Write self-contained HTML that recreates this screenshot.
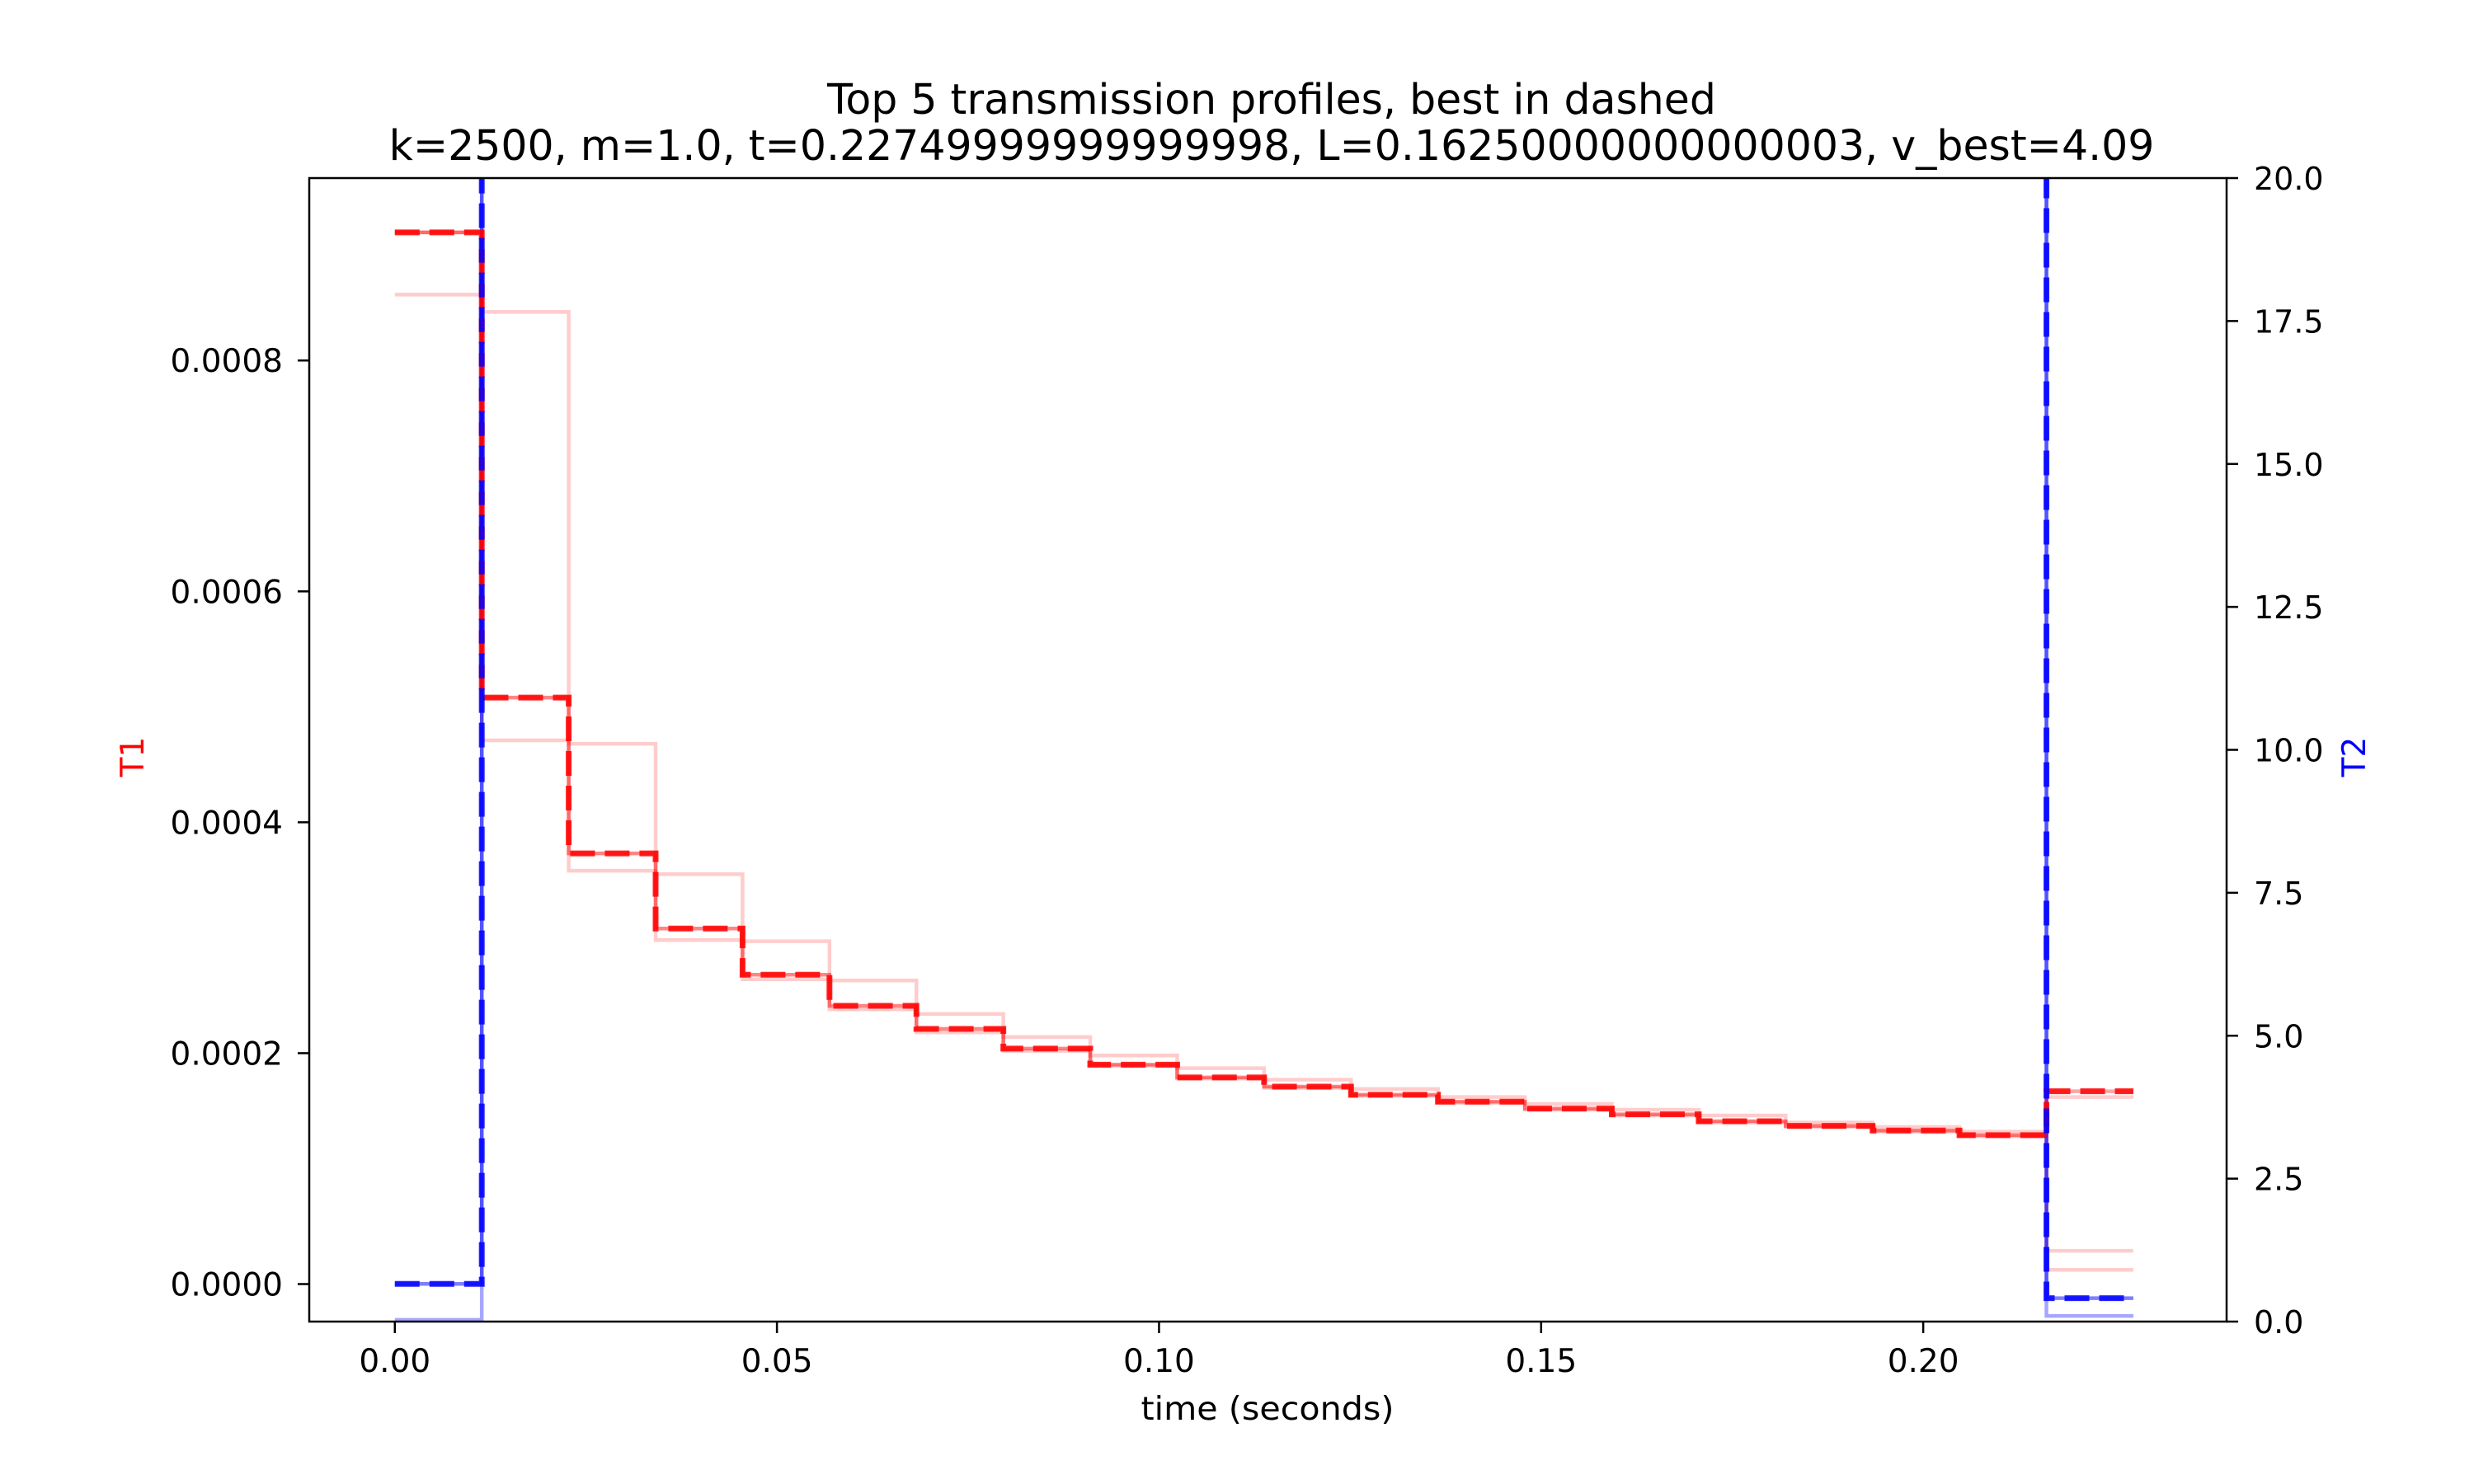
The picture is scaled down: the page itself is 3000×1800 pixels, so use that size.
<!DOCTYPE html>
<html><head><meta charset="utf-8"><style>html,body{margin:0;padding:0;background:#fff}svg{display:block}text{font-family:"DejaVu Sans","Liberation Sans",sans-serif;fill:#000}</style></head>
<body>
<svg id="chart" width="3000" height="1800" viewBox="0 0 3000 1800" xmlns="http://www.w3.org/2000/svg">
<rect width="3000" height="1800" fill="#fff"/>
<text x="1542" y="138" font-size="50.5" text-anchor="middle">Top 5 transmission profiles, best in dashed</text>
<text x="1542" y="194" font-size="50.5" text-anchor="middle">k=2500, m=1.0, t=0.22749999999999998, L=0.16250000000000003, v_best=4.09</text>
<g id="plot"></g>
<text x="1537" y="1722" font-size="39" text-anchor="middle" textLength="307" lengthAdjust="spacingAndGlyphs">time (seconds)</text>
<text transform="translate(174,918) rotate(-90)" font-size="39" text-anchor="middle" style="fill:#ff0000">T1</text>
<text transform="translate(2868,918) rotate(-90)" font-size="39" text-anchor="middle" style="fill:#0000ff">T2</text>
</svg>
<script>
const nSeg = 20;
const segWidth = 0.011375;
const bestT1 = [0.000911,0.000508,0.000373,0.000308,0.000268,0.000241,0.000221,0.000204,0.000190,0.000179,0.000171,0.000164,0.000158,0.000152,0.000147,0.000141,0.000137,0.000133,0.000129,0.000167];
const otherT1a = [0.000857,0.000842,0.000468,0.000355,0.000297,0.000263,0.000234,0.000214,0.000198,0.000187,0.000177,0.000169,0.000162,0.000156,0.000151,0.000146,0.000140,0.000136,0.000132,0.0000288];
const otherT1b = [0.000911,0.000471,0.000358,0.000298,0.000264,0.000238,0.000218,0.000202,0.000189,0.000178,0.000170,0.000163,0.000157,0.000151,0.000146,0.000140,0.000136,0.000132,0.000128,0.000162];
const otherT1c = [0.000911,0.000508,0.000373,0.000308,0.000268,0.000241,0.000221,0.000204,0.000190,0.000179,0.000171,0.000164,0.000158,0.000152,0.000147,0.000141,0.000137,0.000133,0.000129,0.0000123];
const bestT2 = [0.66,25,25,25,25,25,25,25,25,25,25,25,25,25,25,25,25,25,25,0.41];
const otherT2 = [0.03,25,25,25,25,25,25,25,25,25,25,25,25,25,25,25,25,25,25,0.1];
const xTicks = [0,0.05,0.10,0.15,0.20];
const xTickLabels = ["0.00","0.05","0.10","0.15","0.20"];
const y1Ticks = [0,0.0002,0.0004,0.0006,0.0008];
const y1TickLabels = ["0.0000","0.0002","0.0004","0.0006","0.0008"];
const y2Ticks = [0,2.5,5,7.5,10,12.5,15,17.5,20];
const y2TickLabels = ["0.0","2.5","5.0","7.5","10.0","12.5","15.0","17.5","20.0"];

const L=375,R=2700,T=216,B=1603;
const xMin=-0.0112,xMax=0.2397,y1Min=-0.0000325,y1Max=0.000958,y2Min=0,y2Max=20;
const X=v=>L+(v-xMin)/(xMax-xMin)*(R-L);
const Y1=v=>B-(v-y1Min)/(y1Max-y1Min)*(B-T);
const Y2=v=>B-(v-y2Min)/(y2Max-y2Min)*(B-T);
const NS="http://www.w3.org/2000/svg";
const plot=document.getElementById('plot');
function mk(tag,attrs,parent){const e=document.createElementNS(NS,tag);for(const k in attrs)e.setAttribute(k,attrs[k]);(parent||plot).appendChild(e);return e;}
const clip=mk('clipPath',{id:'clip'});mk('rect',{x:L,y:T,width:R-L,height:B-T},clip);
const g=mk('g',{'clip-path':'url(#clip)'});
function stepPath(vals,yf){let d='';for(let i=0;i<vals.length;i++){const x0=X(i*segWidth),x1=X((i+1)*segWidth),y=yf(vals[i]);d+=(i===0?'M':'L')+x0+','+y+' L'+x1+','+y+' ';}return d;}
function series(vals,yf,color,op,dash,name){
 const p=mk('path',{d:stepPath(vals,yf),fill:'none',stroke:color,'stroke-opacity':op,'stroke-width':dash?7:4.5,'stroke-dasharray':dash?'30 12':'none'},g);
 
 
}
series(otherT1a,Y1,'#ff0000',0.2,false,'t1-profile-2');
series(otherT1b,Y1,'#ff0000',0.2,false,'t1-profile-3');
series(otherT1c,Y1,'#ff0000',0.2,false,'t1-profile-4');
series(otherT2,Y2,'#0000ff',0.35,false,'t2-profile-2');
series(bestT2,Y2,'#0000ff',0.5,false,'t2-profile-best-shadow');
series(bestT1,Y1,'#ff0000',0.35,false,'t1-profile-best-shadow');
series(bestT1,Y1,'#ff0000',0.85,true,'t1-best-dashed');
series(bestT2,Y2,'#0000ff',0.85,true,'t2-best-dashed');
const frame=mk('rect',{x:L,y:T,width:R-L,height:B-T,fill:'none',stroke:'#000','stroke-width':2.5});


xTicks.forEach((v,i)=>{const x=X(v);
 const t=mk('line',{x1:x,x2:x,y1:B,y2:B+14,stroke:'#000','stroke-width':2.5});
 
 
 const tx=mk('text',{x:x,y:1664,'font-size':39,'text-anchor':'middle'});tx.textContent=xTickLabels[i];
 
 });
y1Ticks.forEach((v,i)=>{const y=Y1(v);
 const t=mk('line',{x1:L-14,x2:L,y1:y,y2:y,stroke:'#000','stroke-width':2.5});
 
 
 const tx=mk('text',{x:L-32,y:y+14,'font-size':39,'text-anchor':'end'});tx.textContent=y1TickLabels[i];
 
 });
y2Ticks.forEach((v,i)=>{const y=Y2(v);
 const t=mk('line',{x1:R,x2:R+14,y1:y,y2:y,stroke:'#000','stroke-width':2.5});
 
 
 const tx=mk('text',{x:R+33,y:y+14,'font-size':38,'text-anchor':'start'});tx.textContent=y2TickLabels[i];
 
 });
</script>
</body></html>
